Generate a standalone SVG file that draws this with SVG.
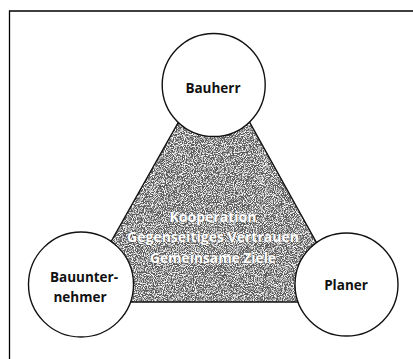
<svg xmlns="http://www.w3.org/2000/svg" width="413" height="359" viewBox="0 0 413 359">
<defs>
<filter id="grain" x="0" y="0" width="100%" height="100%" filterUnits="objectBoundingBox">
<feTurbulence type="fractalNoise" baseFrequency="1.1" numOctaves="1" seed="5" result="n"/>
<feColorMatrix in="n" type="matrix" values="0 0 0 0 1  0 0 0 0 1  0 0 0 0 1  4 0 0 0 -1.75" result="dots"/>
<feMerge result="m"><feMergeNode in="SourceGraphic"/><feMergeNode in="dots"/></feMerge>
<feComposite in="m" in2="SourceGraphic" operator="in"/>
</filter>
</defs>
<style>
.frame{stroke:#000;stroke-width:1.3;fill:none}
.node{fill:#fff;stroke:#111;stroke-width:1.4}
.lbl{font-family:"Open Sans","DejaVu Sans",sans-serif;font-weight:bold;font-size:13.5px;fill:#111;text-anchor:middle}
.inner{font-family:"Open Sans","DejaVu Sans",sans-serif;font-weight:bold;font-size:14.5px;fill:#fff;text-anchor:middle;stroke:#444;stroke-width:0.4;paint-order:stroke}
</style>
<rect width="413" height="359" fill="#fff"/>
<path class="frame" d="M9.5,359 V11 H413"/>
<g id="connectors">
<polygon points="185.3,110 242.8,110 349.5,302 77,302" fill="#5a5a5a" filter="url(#grain)"/>
<polygon points="185.3,110 242.8,110 349.5,302 77,302" fill="none" stroke="#111" stroke-width="1.4"/>
</g>
<g id="center-text">
<text class="inner" x="213" y="221.5" textLength="87" lengthAdjust="spacingAndGlyphs">Kooperation</text>
<text class="inner" x="213" y="242" textLength="172" lengthAdjust="spacingAndGlyphs">Gegenseitiges Vertrauen</text>
<text class="inner" x="213" y="262.5" textLength="126" lengthAdjust="spacingAndGlyphs">Gemeinsame Ziele</text>
</g>
<g id="bauherr">
<circle class="node" cx="213.7" cy="85" r="51.5"/>
<text class="lbl" x="213" y="93">Bauherr</text>
</g>
<g id="bauunternehmer">
<circle class="node" cx="81" cy="284.5" r="52.5"/>
<text class="lbl" x="84" y="281.5">Bauunter-</text>
<text class="lbl" x="80" y="301.5">nehmer</text>
</g>
<g id="planer">
<circle class="node" cx="346.5" cy="284.5" r="51.5"/>
<text class="lbl" x="346" y="290">Planer</text>
</g>
</svg>
